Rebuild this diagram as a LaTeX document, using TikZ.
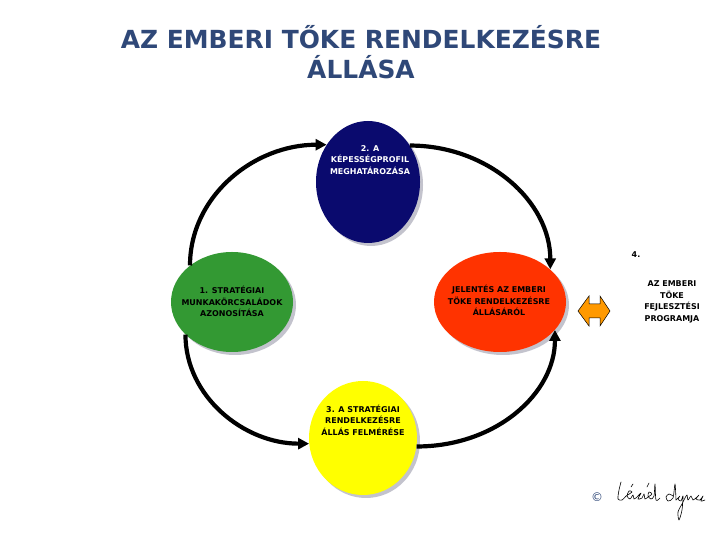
\documentclass[tikz,border=0pt]{standalone}
\usepackage{fontspec}
\setmainfont{DejaVu Sans}
\usetikzlibrary{shapes.geometric,shadows,calc,arrows.meta}
\definecolor{titleblue}{RGB}{47,72,120}
\definecolor{navy}{RGB}{10,10,110}
\definecolor{cgreen}{RGB}{51,153,51}
\definecolor{cred}{RGB}{255,51,0}
\definecolor{cyellow}{RGB}{255,255,0}
\definecolor{corange}{RGB}{255,153,0}
\definecolor{shade}{RGB}{195,195,205}
\tikzset{
  blob/.style={ellipse, draw=none, inner sep=0pt,
    general shadow={fill=shade, shadow xshift=3bp, shadow yshift=-3bp}},
  small/.style={font=\bfseries\fontsize{8}{11.5}\selectfont, align=center, inner sep=0pt},
  cyc/.style={line width=4.2bp, -{Triangle[length=11bp,width=11bp]}},
  sig/.style={line width=0.6bp, line cap=round, line join=round}
}
\begin{document}
\begin{tikzpicture}[x=1bp,y=1bp]
\useasboundingbox (0,0) rectangle (720,540);
% title
\node[font=\bfseries\fontsize{25}{30}\selectfont, text=titleblue, align=center] (title) at (361,488)
  {AZ EMBERI TŐKE RENDELKEZÉSRE\\ÁLLÁSA};
% ellipses
\node[blob, fill=navy, minimum width=104bp, minimum height=122bp] (blue) at (368,358) {};
\node[blob, fill=cgreen, minimum width=122bp, minimum height=100bp] (green) at (232,238) {};
\node[blob, fill=cred, minimum width=132bp, minimum height=100bp] (red) at (500,238) {};
\node[blob, fill=cyellow, minimum width=108bp, minimum height=114bp] (yellow) at (363,102) {};
% texts
\node[small, text=white] (tblue) at (370,380) {2. A\\KÉPESSÉGPROFIL\\MEGHATÁROZÁSA};
\node[small] (tgreen) at (232,238.5) {1. STRATÉGIAI\\MUNKAKÖRCSALÁDOK\\AZONOSÍTÁSA};
\node[small] (tred) at (499,239.5) {JELENTÉS AZ EMBERI\\TÖKE RENDELKEZÉSRE\\ÁLLÁSÁRÓL};
\node[small] (tyellow) at (363,120) {3. A STRATÉGIAI\\RENDELKEZÉSRE\\ÁLLÁS FELMÉRÉSE};
\node[small] (four) at (636,285) {4.};
\node[small] (tprog) at (672,238) {AZ EMBERI\\TÖKE\\FEJLESZTÉSI\\PROGRAMJA};
% cycle arrows
\draw[cyc] (green.139) .. controls ($(green.139)+(0,69)$) and ($(blue.138)+(-73,0)$) .. (blue.138);
\draw[cyc] (blue.41) .. controls ($(blue.41)+(78,0)$) and ($(red.33)+(0,68)$) .. (red.33);
\draw[cyc] (green.215) .. controls ($(green.215)+(0,-62)$) and ($(yellow.186)+(-65,0)$) .. (yellow.186);
\draw[cyc] (yellow.351) .. controls ($(yellow.351)+(80,0)$) and ($(red.333)+(0,-63)$) .. (red.333);
% double arrow
\filldraw[fill=corange, draw=black, line width=0.5bp]
  (578,229) -- (589,244) -- (589,236) -- (600,236) -- (600,244) -- (610,229)
  -- (600,214) -- (600,222) -- (589,222) -- (589,214) -- cycle;
% copyright and signature
\node[font=\fontsize{12}{12}\selectfont, text=titleblue] (copy) at (597,43) {©};
\draw[sig] plot[smooth] coordinates {(621,58) (619,50) (618,41) (622,40) (626,44)};
\draw[sig] plot[smooth] coordinates {(626,44) (632,48) (629,49) (627,44) (630,41) (633,45) (634,41) (637,43)};
\draw[sig] (631,53) -- (633,56);
\draw[sig] plot[smooth] coordinates {(637,43) (641,47) (638,41) (642,42) (644,46) (645,41) (648,43)};
\draw[sig] plot[smooth] coordinates {(648,43) (652,46) (649,48) (648,44) (651,41) (654,44) (655,56) (656,40) (660,42)};
\draw[sig] (647,53) -- (649,57);
\draw[sig] plot[smooth] coordinates {(673,44) (669,46) (666,43) (668,39) (673,42) (675,56) (676,40)};
\draw[sig] plot[smooth] coordinates {(676,40) (680,44) (678,41) (681,39) (683,44) (682,30) (679,20) (678,28) (682,36) (685,42)};
\draw[sig] plot[smooth] coordinates {(685,42) (687,45) (688,40) (691,44) (693,40) (697,43) (699,45) (696,41) (700,40) (703,44) (701,39) (705,40)};
\end{tikzpicture}
\end{document}
